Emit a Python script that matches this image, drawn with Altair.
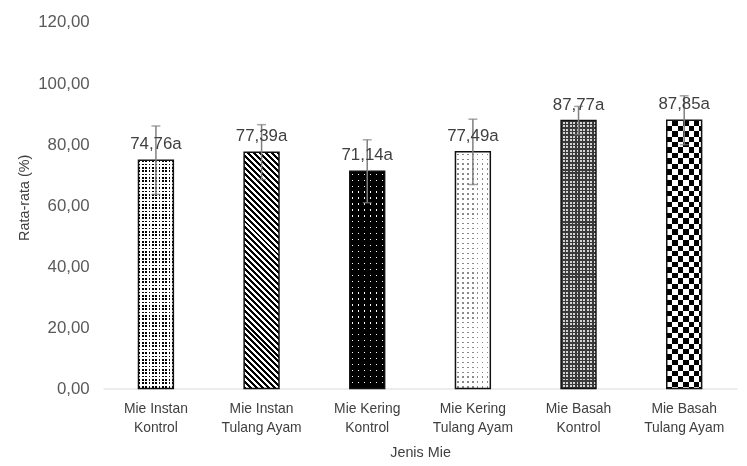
import math
import altair as alt
import pandas as pd

# ---- data ----
categories = [
    "Mie Instan\nKontrol",
    "Mie Instan\nTulang Ayam",
    "Mie Kering\nKontrol",
    "Mie Kering\nTulang Ayam",
    "Mie Basah\nKontrol",
    "Mie Basah\nTulang Ayam",
]
means = [74.76, 77.39, 71.14, 77.49, 87.77, 87.85]
errors = [11.2, 9.0, 10.3, 10.7, 4.6, 8.0]
letters = ["a", "a", "a", "a", "a", "a"]
y_ticks = [0, 20, 40, 60, 80, 100, 120]

df = pd.DataFrame({
    "cat": categories,
    "idx": list(range(len(categories))),
    "mean": means,
    "err": errors,
    "letter": letters,
})

# ---- layout ----
PLOT_W, PLOT_H = 640, 370
Y_MAX = 120
PAD_IN = 0.67
BAR_W = PLOT_W / len(categories) * (1 - PAD_IN)
FONT = "Liberation Sans"


def bar_h(i):
    return means[i] / Y_MAX * PLOT_H


def stops_for(length, period, segments):
    """Hard-edged repeating stops along a gradient of given pixel length."""
    p = period / length
    n = math.ceil(length / period)
    stops = []
    for k in range(n):
        base = k * p
        acc = 0.0
        for color, frac in segments:
            s = min(base + acc * p, 1.0)
            acc += frac
            e = min(base + acc * p, 1.0)
            stops.append({"offset": round(s, 5), "color": color})
            stops.append({"offset": round(e, 5), "color": color})
    return stops


def grad_x(period, segments):
    return {"gradient": "linear", "x1": 0, "y1": 0, "x2": 1, "y2": 0,
            "stops": stops_for(BAR_W, period, segments)}


def grad_y(i, period, segments):
    return {"gradient": "linear", "x1": 0, "y1": 0, "x2": 0, "y2": 1,
            "stops": stops_for(bar_h(i), period, segments)}


def grad_diag(i, period, segments):
    w, h = BAR_W, bar_h(i)
    t = (w + h) / (w * w + h * h)
    return {"gradient": "linear", "x1": 0, "y1": 1, "x2": t * w, "y2": 1 - t * h,
            "stops": stops_for(w + h, period, segments)}


CLEAR = "rgba(255,255,255,0)"

# pattern layers: (index, fill, blend)
patterns = [
    # 1: black dots on white
    (0, grad_x(3.4, [("#000000", 0.5), ("#ffffff", 0.5)]), None),
    (0, grad_y(0, 3.4, [("#000000", 0.5), ("#ffffff", 0.5)]), "lighten"),
    # 2: diagonal stripes
    (1, grad_diag(1, 6.0, [("#000000", 0.5), ("#ffffff", 0.5)]), None),
    # 3: white dots on black
    (2, grad_x(6.0, [("#000000", 0.4), ("#ffffff", 0.22), ("#000000", 0.38)]), None),
    (2, grad_y(2, 6.0, [("#000000", 0.4), ("#ffffff", 0.22), ("#000000", 0.38)]), "darken"),
    # 4: light dotted
    (3, grad_x(5.0, [("#ffffff", 0.35), ("#8a8a8a", 0.3), ("#ffffff", 0.35)]), None),
    (3, grad_y(3, 5.0, [("#ffffff", 0.35), ("#8a8a8a", 0.3), ("#ffffff", 0.35)]), "lighten"),
    # 5: dark grid with light squares
    (4, grad_x(3.5, [("#3a3a3a", 0.45), ("#d4d4d4", 0.55)]), None),
    (4, grad_y(4, 3.5, [("#3a3a3a", 0.45), ("#d4d4d4", 0.55)]), "darken"),
    # 6: checkerboard
    (5, grad_x(11.0, [("#000000", 0.5), ("#ffffff", 0.5)]), None),
    (5, grad_y(5, 11.0, [("#ffffff", 0.5), (CLEAR, 0.5)]), "difference"),
]

x_enc = alt.X(
    "cat:N",
    sort=categories,
    scale=alt.Scale(domain=categories, paddingInner=PAD_IN, paddingOuter=PAD_IN / 2),
    axis=alt.Axis(
        title="Jenis Mie",
        labelExpr="split(datum.label, '\\n')",
        labelAngle=0,
        labelFont=FONT,
        labelFontSize=14,
        labelColor="#404040",
        labelLineHeight=19,
        labelPadding=13,
        labelBaseline="top",
        ticks=False,
        domain=True,
        domainColor="#d9d9d9",
        domainWidth=1,
        grid=False,
        titleFont=FONT,
        titleFontSize=14.5,
        titleFontWeight="normal",
        titleColor="#404040",
        titlePadding=12,
    ),
)

y_enc = alt.Y(
    "mean:Q",
    scale=alt.Scale(domain=[0, Y_MAX], nice=False, zero=True),
    axis=alt.Axis(
        title="Rata-rata (%)",
        values=y_ticks,
        labelExpr="replace(format(datum.value, '.2f'), '.', ',')",
        labelFont=FONT,
        labelFontSize=17,
        labelColor="#595959",
        labelPadding=14,
        ticks=False,
        domain=False,
        grid=False,
        titleFont=FONT,
        titleFontSize=14.5,
        titleFontWeight="normal",
        titleColor="#404040",
        titlePadding=6,
        titleY=177,
    ),
)

base = alt.Chart(df)
layers = []
for i, fill, blend in patterns:
    kw = {"fill": fill, "strokeWidth": 0}
    if blend:
        kw["blend"] = blend
    layers.append(
        base.transform_filter(alt.FieldEqualPredicate(field="idx", equal=i))
        .mark_bar(**kw)
        .encode(x=x_enc, y=y_enc)
    )

outline = base.mark_bar(fill="transparent", stroke="#111111", strokeWidth=1.5).encode(x=x_enc, y=y_enc)

err_base = base.transform_calculate(
    lo="datum.mean - datum.err", hi="datum.mean + datum.err"
)
err_rule = err_base.mark_rule(color="#7f7f7f", strokeWidth=1.5).encode(
    x=x_enc, y=alt.Y("lo:Q"), y2=alt.Y2("hi:Q")
)
cap_lo = err_base.mark_tick(color="#7f7f7f", thickness=1.5, size=9).encode(x=x_enc, y=alt.Y("lo:Q"))
cap_hi = err_base.mark_tick(color="#7f7f7f", thickness=1.5, size=9).encode(x=x_enc, y=alt.Y("hi:Q"))

labels = base.transform_calculate(
    lab="replace(format(datum.mean, '.2f'), '.', ',') + datum.letter"
).mark_text(
    dy=-11, baseline="alphabetic", align="center", font=FONT, fontSize=17, color="#404040"
).encode(x=x_enc, y=y_enc, text="lab:N")

chart = alt.layer(*layers, outline, err_rule, cap_lo, cap_hi, labels).properties(
    width=PLOT_W,
    height=PLOT_H,
    background="white",
    autosize=alt.AutoSizeParams(type="none"),
    padding={"left": 96, "top": 12, "right": 2, "bottom": 70},
).configure_view(strokeWidth=0)

chart.save("out.html", embed_options={"renderer": "svg", "actions": False})
